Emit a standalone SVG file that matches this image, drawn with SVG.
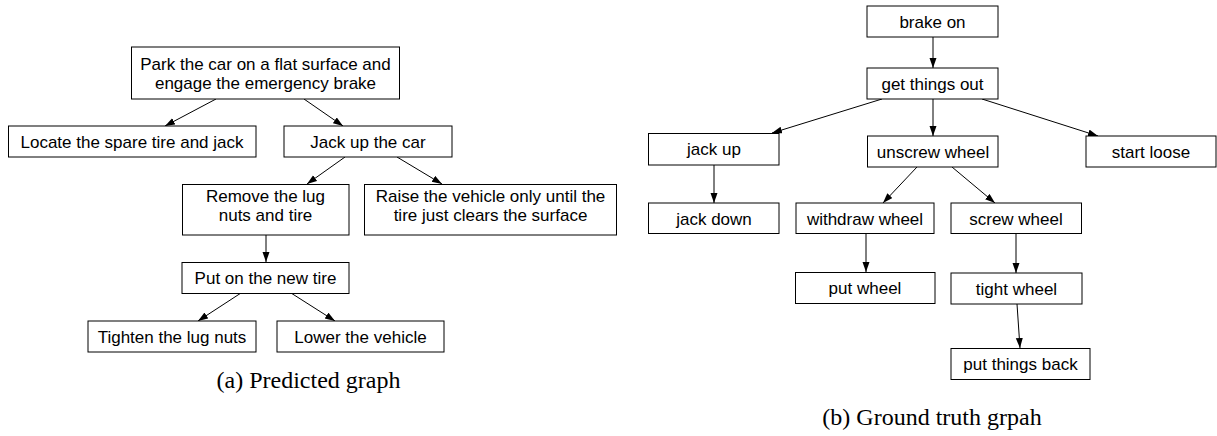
<svg xmlns="http://www.w3.org/2000/svg" width="1217" height="436" viewBox="0 0 1217 436">
<defs>
<marker id="ah" markerUnits="userSpaceOnUse" markerWidth="11" markerHeight="8" refX="10" refY="3.5" orient="auto">
<path d="M0,0 L10,3.5 L0,7 z" fill="#000"/>
</marker>
<style>
.box{fill:#fff;stroke:#000;stroke-width:1}
.t{font-family:"Liberation Sans",Arial,Helvetica,sans-serif;font-size:17px;fill:#000;text-anchor:middle}
.cap{font-family:"Liberation Serif","Times New Roman",serif;font-size:24px;fill:#000;text-anchor:middle}
.e{stroke:#000;stroke-width:1;fill:none;marker-end:url(#ah)}
</style>
</defs>
<rect width="1217" height="436" fill="#fff"/>
<g id="connectors">
<line class="e" x1="216" y1="99" x2="165" y2="126"/>
<line class="e" x1="304" y1="99" x2="343" y2="126"/>
<line class="e" x1="345" y1="157" x2="307" y2="184"/>
<line class="e" x1="397" y1="157" x2="442" y2="184"/>
<line class="e" x1="266" y1="235" x2="266" y2="262"/>
<line class="e" x1="241" y1="293" x2="198" y2="321"/>
<line class="e" x1="291" y1="293" x2="335" y2="321"/>
<line class="e" x1="933" y1="37" x2="933" y2="68"/>
<line class="e" x1="933" y1="99" x2="933" y2="136"/>
<line class="e" x1="882" y1="99" x2="772" y2="133"/>
<line class="e" x1="982" y1="99" x2="1098" y2="136"/>
<line class="e" x1="714" y1="165" x2="714" y2="203"/>
<line class="e" x1="917" y1="167" x2="883" y2="203"/>
<line class="e" x1="952" y1="167" x2="995" y2="203"/>
<line class="e" x1="866" y1="233" x2="866" y2="272"/>
<line class="e" x1="1016" y1="233" x2="1016" y2="273"/>
<line class="e" x1="1017" y1="304" x2="1020" y2="348"/>
</g>
<g id="n_park"><rect class="box" x="131.5" y="47" width="268" height="52"/><text class="t" x="265.5" y="70">Park the car on a flat surface and</text><text class="t" x="265.5" y="89">engage the emergency brake</text></g>
<g id="n_locate"><rect class="box" x="8.5" y="126" width="247.5" height="31"/><text class="t" x="132" y="147.5">Locate the spare tire and jack</text></g>
<g id="n_jackcar"><rect class="box" x="284" y="126" width="168" height="31"/><text class="t" x="368" y="147.5">Jack up the car</text></g>
<g id="n_remove"><rect class="box" x="182.5" y="184.5" width="166.5" height="50.5"/><text class="t" x="265.5" y="202">Remove the lug</text><text class="t" x="265.5" y="221">nuts and tire</text></g>
<g id="n_raise"><rect class="box" x="364.5" y="184.5" width="252" height="50.5"/><text class="t" x="490.5" y="202">Raise the vehicle only until the</text><text class="t" x="490.5" y="221">tire just clears the surface</text></g>
<g id="n_put"><rect class="box" x="182" y="262.5" width="167" height="31"/><text class="t" x="265.5" y="284">Put on the new tire</text></g>
<g id="n_tighten"><rect class="box" x="88" y="321" width="168" height="31"/><text class="t" x="172" y="342.5">Tighten the lug nuts</text></g>
<g id="n_lower"><rect class="box" x="277" y="321" width="167" height="31"/><text class="t" x="360.5" y="342.5">Lower the vehicle</text></g>
<text class="cap" x="308.5" y="388">(a) Predicted graph</text>
<g id="n_brake"><rect class="box" x="867" y="6" width="131" height="31"/><text class="t" x="932.5" y="27.5">brake on</text></g>
<g id="n_get"><rect class="box" x="867" y="68" width="131" height="31"/><text class="t" x="932.5" y="89.5">get things out</text></g>
<g id="n_jackup"><rect class="box" x="648.5" y="133.5" width="130.5" height="31.5"/><text class="t" x="714" y="155">jack up</text></g>
<g id="n_unscrew"><rect class="box" x="867.5" y="136" width="130.5" height="31"/><text class="t" x="933" y="157.5">unscrew wheel</text></g>
<g id="n_start"><rect class="box" x="1086" y="136" width="130" height="31"/><text class="t" x="1151" y="157.5">start loose</text></g>
<g id="n_jackdown"><rect class="box" x="648.5" y="203" width="130.5" height="30.5"/><text class="t" x="714" y="224.5">jack down</text></g>
<g id="n_withdraw"><rect class="box" x="796" y="203" width="138" height="30.5"/><text class="t" x="865" y="224.5">withdraw wheel</text></g>
<g id="n_screw"><rect class="box" x="951" y="203" width="130.5" height="30.5"/><text class="t" x="1016" y="224.5">screw wheel</text></g>
<g id="n_putwheel"><rect class="box" x="795.5" y="272.5" width="139.5" height="31"/><text class="t" x="865" y="294">put wheel</text></g>
<g id="n_tight"><rect class="box" x="951" y="273" width="131" height="31"/><text class="t" x="1016.5" y="294.5">tight wheel</text></g>
<g id="n_back"><rect class="box" x="951" y="348.5" width="139" height="31"/><text class="t" x="1020.5" y="370">put things back</text></g>
<text class="cap" x="932" y="425">(b) Ground truth grpah</text>
</svg>
